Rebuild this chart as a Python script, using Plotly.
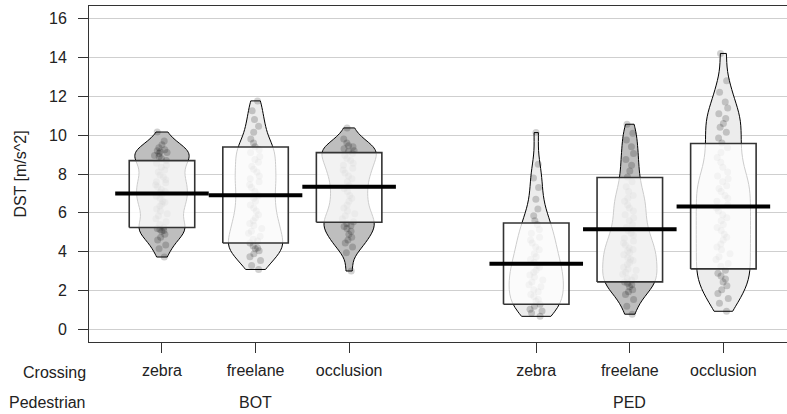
import numpy as np
import plotly.graph_objects as go

# ---------------- data ----------------
crossing = ["zebra", "freelane", "occlusion", "zebra", "freelane", "occlusion"]
pedestrian = ["BOT", "PED"]
group_of = ["BOT", "BOT", "BOT", "PED", "PED", "PED"]
positions = [1, 2, 3, 5, 6, 7]
group_pos = [2, 6]

means = [7.00, 6.91, 7.34, 3.39, 5.16, 6.33]
inf_low = [5.25, 4.45, 5.52, 1.30, 2.45, 3.12]
inf_high = [8.69, 9.39, 9.10, 5.48, 7.82, 9.57]

bot_zebra = [3.73, 4.15, 4.35, 4.6, 4.75, 4.9, 5.05, 5.1, 5.15, 5.2, 5.25, 5.4,
             5.55, 5.7, 5.85, 5.95, 6.1, 6.2, 6.35, 6.45, 6.55, 6.6, 6.75, 6.85,
             6.95, 7.05, 7.1, 7.2, 7.35, 7.45, 7.55, 7.6, 7.7, 7.85, 7.95, 8.1,
             8.2, 8.35, 8.45, 8.55, 8.7, 8.8, 8.9, 8.95, 9.05, 9.1, 9.15, 9.2,
             9.25, 9.35, 9.5, 9.7, 10.16]
bot_freelane = [3.09, 3.3, 3.55, 3.75, 3.9, 4.05, 4.15, 4.2, 4.3, 4.45, 4.55, 4.65,
                4.8, 4.95, 5.05, 5.2, 5.35, 5.45, 5.6, 5.75, 5.9, 6.1, 6.25, 6.4,
                6.6, 6.75, 6.9, 7.1, 7.3, 7.45, 7.6, 7.75, 7.9, 8.1, 8.25, 8.4,
                8.6, 8.75, 8.9, 9.1, 9.25, 9.4, 9.6, 9.8, 10.15, 10.45, 10.8,
                11.25, 11.76]
bot_occlusion = [3.01, 3.95, 4.25, 4.45, 4.6, 4.75, 4.9, 5.05, 5.2, 5.3, 5.35, 5.45,
                 5.55, 5.7, 5.85, 5.95, 6.1, 6.25, 6.4, 6.6, 6.75, 6.9, 7.1, 7.25,
                 7.4, 7.6, 7.75, 7.9, 8.05, 8.2, 8.3, 8.45, 8.55, 8.7, 8.8, 8.95,
                 9.05, 9.15, 9.2, 9.3, 9.4, 9.45, 9.6, 9.8, 10.37]
ped_zebra = [0.68, 0.85, 0.95, 1.05, 1.2, 1.3, 1.45, 1.55, 1.7, 1.8, 1.95,
             2.05, 2.2, 2.3, 2.45, 2.55, 2.7, 2.8, 2.95, 3.05, 3.2, 3.3, 3.45,
             3.6, 3.75, 3.9, 4.1, 4.25, 4.45, 4.6, 4.75, 4.95, 5.15, 5.4, 5.6,
             5.85, 6.2, 6.7, 7.3, 7.8, 8.5, 10.13]
ped_freelane = [0.79, 1.2, 1.55, 1.8, 1.95, 2.05, 2.2, 2.3, 2.38, 2.45, 2.55, 2.62,
                2.7, 2.85, 2.95, 3.05, 3.12, 3.2, 3.35, 3.45, 3.55, 3.62, 3.7, 3.85,
                3.95, 4.05, 4.12, 4.2, 4.35, 4.45, 4.55, 4.7, 4.85, 4.95, 5.1, 5.25,
                5.4, 5.6, 5.75, 5.9, 6.1, 6.25, 6.4, 6.6, 6.75, 6.9, 7.1, 7.35,
                7.6, 7.85, 8.15, 8.45, 8.75, 9.05, 9.4, 9.75, 10.1, 10.56]
ped_occlusion = [0.94, 1.35, 1.6, 1.85, 2.05, 2.25, 2.45, 2.6, 2.75, 2.9, 3.05, 3.25,
                 3.4, 3.6, 3.75, 3.9, 4.1, 4.25, 4.4, 4.6, 4.75, 4.9, 5.1, 5.25,
                 5.4, 5.6, 5.75, 5.9, 6.1, 6.25, 6.4, 6.6, 6.75, 6.9, 7.1, 7.25,
                 7.4, 7.6, 7.75, 7.9, 8.1, 8.35, 8.6, 8.85, 9.1, 9.35, 9.6, 9.85,
                 10.15, 10.4, 10.6, 10.85, 11.1, 11.4, 11.7, 12.2, 12.8, 14.2]
samples = [bot_zebra, bot_freelane, bot_occlusion, ped_zebra, ped_freelane, ped_occlusion]

# density bandwidths of the beans
bean_bw = [0.45, 0.5, 0.45, 0.7, 0.55, 0.7]
bean_fill = ["#bebebe", "#ececec", "#bebebe", "#ececec", "#bebebe", "#ececec"]

y_ticks = [0, 2, 4, 6, 8, 10, 12, 14, 16]

# ---------------- styling ----------------
FONT = "Liberation Sans, Arial, sans-serif"
BEAN_W = 0.58
BOX_HALF = 0.35
AVG_HALF = 0.5

fig = go.Figure()

# beans + points (each bean scaled to its own maximum width)
for pos, grp, cr, vals, bw, fc in zip(positions, group_of, crossing, samples, bean_bw, bean_fill):
    fig.add_trace(go.Violin(
        x=[pos] * len(vals), y=vals,
        name=f"{grp} {cr}", scalegroup=f"{grp}-{cr}",
        bandwidth=bw, spanmode="hard",
        width=BEAN_W, scalemode="width",
        fillcolor=fc, opacity=1,
        line=dict(color="black", width=1),
        points="all", pointpos=0, jitter=0.28,
        marker=dict(size=7, color="rgba(0,0,0,0.18)", line=dict(width=0)),
        box_visible=False, meanline_visible=False,
        showlegend=False, hoverinfo="skip",
    ))

# inference bands (boxes)
for pos, lo, hi in zip(positions, inf_low, inf_high):
    fig.add_trace(go.Scatter(
        x=[pos - BOX_HALF, pos + BOX_HALF, pos + BOX_HALF, pos - BOX_HALF, pos - BOX_HALF],
        y=[lo, lo, hi, hi, lo],
        mode="lines", fill="toself",
        fillcolor="rgba(255,255,255,0.8)",
        line=dict(color="#333333", width=1.6),
        showlegend=False, hoverinfo="skip",
    ))

# averages
for pos, m in zip(positions, means):
    fig.add_trace(go.Scatter(
        x=[pos - AVG_HALF, pos + AVG_HALF], y=[m, m],
        mode="lines", line=dict(color="black", width=4),
        showlegend=False, hoverinfo="skip",
    ))

# lower label rows
fig.add_annotation(text="Crossing", xref="paper", yref="paper", x=0, y=0,
                   xanchor="right", yanchor="middle", yshift=-30, xshift=-1,
                   showarrow=False, font=dict(size=16, color="#222", family=FONT))
fig.add_annotation(text="Pedestrian", xref="paper", yref="paper", x=0, y=0,
                   xanchor="right", yanchor="middle", yshift=-60, xshift=-1,
                   showarrow=False, font=dict(size=16, color="#222", family=FONT))
for gp, name in zip(group_pos, pedestrian):
    fig.add_annotation(text=name, xref="x", yref="paper", x=gp, y=0,
                       xanchor="center", yanchor="middle", yshift=-60,
                       showarrow=False, font=dict(size=16, color="#222", family=FONT))

fig.update_layout(
    width=787, height=414,
    margin=dict(l=89, r=0, t=6, b=72),
    paper_bgcolor="white", plot_bgcolor="white",
    violinmode="overlay",
    font=dict(family=FONT, size=16, color="#222"),
    xaxis=dict(
        range=[0.22, 7.68],
        tickmode="array", tickvals=positions, ticktext=crossing,
        ticks="outside", ticklen=10, tickcolor="#333", tickwidth=1,
        showline=True, linecolor="#333", linewidth=1, mirror=True,
        showgrid=False, zeroline=False,
        tickfont=dict(size=16, family=FONT, color="#222"),
        ticklabelstandoff=4,
    ),
    yaxis=dict(
        range=[-0.64, 16.64],
        tickmode="array", tickvals=y_ticks,
        ticks="outside", ticklen=10, tickcolor="#333", tickwidth=1,
        showline=True, linecolor="#333", linewidth=1,
        showgrid=True, gridcolor="#cfcfcf", gridwidth=1, zeroline=False,
        tickfont=dict(size=16, family=FONT, color="#222"),
        ticklabelstandoff=8,
        title=dict(text="DST [m/s^2]", font=dict(size=16, family=FONT, color="#222"), standoff=18),
    ),
)

fig.write_html("out.html")
